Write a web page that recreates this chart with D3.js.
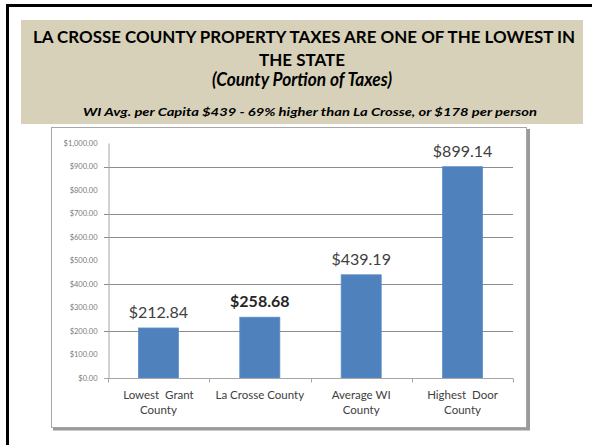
<!DOCTYPE html>
<html>
<head>
<meta charset="utf-8">
<script src="https://cdn.jsdelivr.net/npm/d3@7"></script>
<style>
  html,body{margin:0;padding:0;background:#fff;}
  svg{display:block;}
</style>
</head>
<body>
<svg id="chart" width="592" height="445"></svg>
<script>
// data
const categories = [["Lowest  Grant","County"],["La Crosse County"],["Average WI","County"],["Highest  Door","County"]];
const values = [212.84, 258.68, 439.19, 899.14];
const boldLabel = [false, true, false, false];
const yTicks = [0,100,200,300,400,500,600,700,800,900,1000];
const gridValues = [200,400,600,700,900]; // the lines that actually show in the picture
const titleLines = ["LA CROSSE COUNTY PROPERTY TAXES ARE ONE OF THE LOWEST IN","THE STATE"];
const subTitle = "(County Portion of Taxes)";
const note = "WI Avg. per Capita $439 - 69% higher than La Crosse, or $178 per person";

const svg = d3.select('#chart');
const FONT = "Lato, 'Open Sans', sans-serif";

// slide frame
svg.append('path').attr('d','M7.5,445 V5.5 H592').attr('fill','none').attr('stroke','#000').attr('stroke-width',3);

// header band
svg.append('rect').attr('x',21).attr('y',20).attr('width',562).attr('height',104).attr('fill','#d7d1b9');
const hdr = svg.append('g').attr('font-family',FONT).attr('fill','#000').attr('text-anchor','middle');
hdr.append('text').attr('x',304).attr('y',42.5).attr('font-size',17).attr('font-weight',700)
  .attr('textLength',542).attr('lengthAdjust','spacingAndGlyphs').text(titleLines[0]);
hdr.append('text').attr('x',302).attr('y',65.5).attr('font-size',17).attr('font-weight',700)
  .attr('textLength',86).attr('lengthAdjust','spacingAndGlyphs').text(titleLines[1]);
hdr.append('text').attr('x',302).attr('y',86).attr('font-size',18).attr('font-weight',700).attr('font-style','italic')
  .attr('textLength',180).attr('lengthAdjust','spacingAndGlyphs').text(subTitle);
hdr.append('text').attr('x',310).attr('y',115.5).attr('font-size',11.5).attr('font-weight',700).attr('font-style','italic')
  .attr('textLength',454).attr('lengthAdjust','spacingAndGlyphs').text(note);

// chart box with shadow
svg.append('path').attr('d','M53,429 H528.5 V129').attr('fill','none').attr('stroke','#9a9a9a').attr('stroke-width',3);
svg.append('rect').attr('x',51.5).attr('y',127.5).attr('width',475).attr('height',300).attr('fill','#fff').attr('stroke','#a6a6a6');

// scales
const x = d3.scaleBand().domain(categories.map((c,i)=>i)).range([108,513]).paddingInner(0.605).paddingOuter(0.3);
const y = d3.scaleLinear().domain([0,1000]).range([378,143]);

// gridlines
svg.append('g').selectAll('line').data(gridValues).join('line')
  .attr('x1',104).attr('x2',513).attr('y1',d=>Math.round(y(d))+0.5).attr('y2',d=>Math.round(y(d))+0.5)
  .attr('stroke','#8c8c8c').attr('stroke-width',1);

// y axis
const yAxis = svg.append('g').attr('transform','translate(108.5,0)')
  .call(d3.axisLeft(y).tickValues(yTicks).tickFormat(d3.format('$,.2f')).tickSize(0).tickPadding(11));
yAxis.select('.domain').attr('stroke','#a6a6a6');
yAxis.selectAll('text').attr('font-family',FONT).attr('font-size',7.5).attr('fill','#7a7a7a');

// bars
svg.append('g').selectAll('rect').data(values).join('rect')
  .attr('x',(d,i)=>x(i)).attr('width',x.bandwidth())
  .attr('y',d=>y(d)).attr('height',d=>y(0)-y(d))
  .attr('fill','#4f81bd').attr('stroke','#5b8fcb').attr('stroke-width',0.8);

// x axis
const xAxis = svg.append('g').attr('transform','translate(0,378.5)');
xAxis.append('line').attr('x1',104).attr('x2',513).attr('stroke','#a6a6a6');
const bounds = d3.range(categories.length+1).map(i=> i<categories.length ? x(i)-x.step()*x.paddingInner()/2 : 513);
xAxis.selectAll('line.tk').data(bounds).join('line').attr('class','tk')
  .attr('x1',d=>Math.round(d)+0.5).attr('x2',d=>Math.round(d)+0.5).attr('y1',0).attr('y2',4).attr('stroke','#a6a6a6');

// category labels
const lab = svg.append('g').attr('font-family',FONT).attr('font-size',11.5).attr('fill','#404040').attr('text-anchor','middle');
categories.forEach((lines,i)=>{
  const t = lab.append('text').attr('x',x(i)+x.bandwidth()/2).attr('y',399);
  lines.forEach((ln,j)=> t.append('tspan').attr('x',x(i)+x.bandwidth()/2).attr('dy',j?15:0).attr('xml:space','preserve').text(ln));
});

// value labels
svg.append('g').attr('font-family',FONT).attr('text-anchor','middle').selectAll('text').data(values).join('text')
  .attr('x',(d,i)=>x(i)+x.bandwidth()/2).attr('y',d=>y(d)-10)
  .attr('font-size',16).attr('font-weight',(d,i)=>boldLabel[i]?700:400)
  .attr('fill',(d,i)=>boldLabel[i]?'#262626':'#404040')
  .text(d=>d3.format('$.2f')(d));
</script>
</body>
</html>
